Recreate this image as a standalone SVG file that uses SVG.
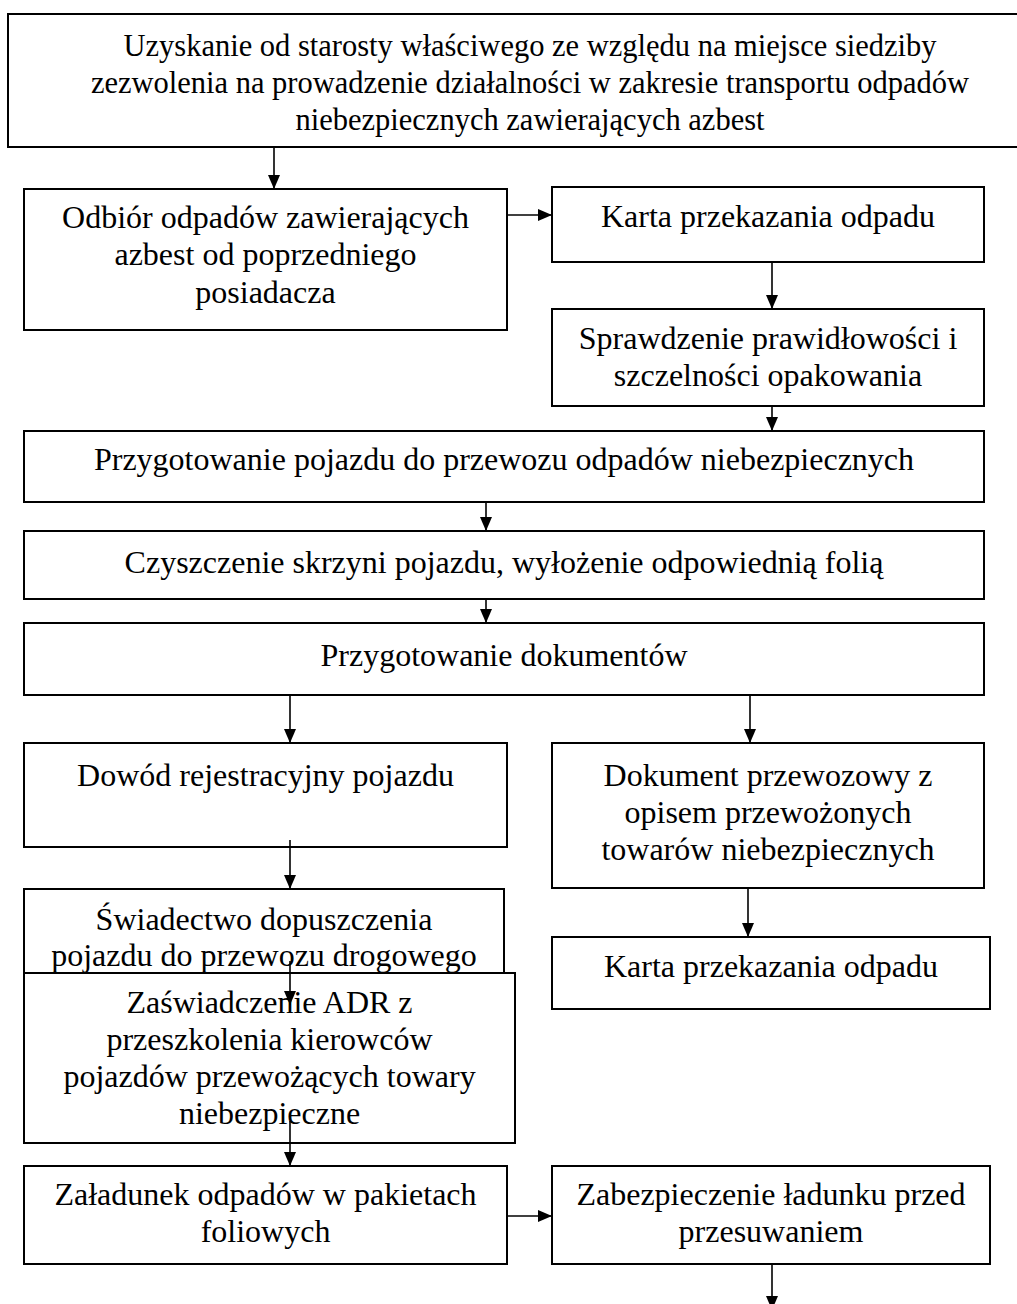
<svg xmlns="http://www.w3.org/2000/svg" width="1017" height="1304" viewBox="0 0 1017 1304">
<style>
.box{fill:#fff;stroke:#000;stroke-width:2}
.t{font-family:"Liberation Serif","Times New Roman",serif;font-size:32px;fill:#000;text-anchor:middle}
.t1{font-size:30.5px}
.c{stroke:#000;stroke-width:1.6;fill:none;marker-end:url(#ah)}
</style>
<defs>
<marker id="ah" viewBox="0 0 14 12" refX="14" refY="6" markerWidth="14" markerHeight="12" orient="auto" markerUnits="userSpaceOnUse">
<path d="M0,0 L14,6 L0,12 z" fill="#000"/>
</marker>
</defs>
<rect width="1017" height="1304" fill="#fff"/>
<g id="n1"><rect class="box" x="8" y="14" width="1025" height="133"/>
<text class="t t1" x="530" y="56">Uzyskanie od starosty właściwego ze względu na miejsce siedziby</text>
<text class="t t1" x="530" y="93">zezwolenia na prowadzenie działalności w zakresie transportu odpadów</text>
<text class="t t1" x="530" y="130">niebezpiecznych zawierających azbest</text></g>
<g id="n2"><rect class="box" x="24" y="189" width="483" height="141"/>
<text class="t" x="265.5" y="228">Odbiór odpadów zawierających</text>
<text class="t" x="265.5" y="265">azbest od poprzedniego</text>
<text class="t" x="265.5" y="303">posiadacza</text></g>
<g id="n3"><rect class="box" x="552" y="187" width="432" height="75"/>
<text class="t" x="768" y="227">Karta przekazania odpadu</text></g>
<g id="n4"><rect class="box" x="552" y="309" width="432" height="97"/>
<text class="t" x="768" y="349">Sprawdzenie prawidłowości i</text>
<text class="t" x="768" y="386">szczelności opakowania</text></g>
<g id="n5"><rect class="box" x="24" y="431" width="960" height="71"/>
<text class="t" x="504" y="470">Przygotowanie pojazdu do przewozu odpadów niebezpiecznych</text></g>
<g id="n6"><rect class="box" x="24" y="531" width="960" height="68"/>
<text class="t" x="504" y="573">Czyszczenie skrzyni pojazdu, wyłożenie odpowiednią folią</text></g>
<g id="n7"><rect class="box" x="24" y="623" width="960" height="72"/>
<text class="t" x="504" y="666">Przygotowanie dokumentów</text></g>
<g id="n8"><rect class="box" x="24" y="743" width="483" height="104"/>
<text class="t" x="265.5" y="786">Dowód rejestracyjny pojazdu</text></g>
<g id="n9"><rect class="box" x="552" y="743" width="432" height="145"/>
<text class="t" x="768" y="786">Dokument przewozowy z</text>
<text class="t" x="768" y="823">opisem przewożonych</text>
<text class="t" x="768" y="860">towarów niebezpiecznych</text></g>
<g id="n10"><rect class="box" x="24" y="889" width="480" height="84"/>
<text class="t" x="264" y="930">Świadectwo dopuszczenia</text>
<text class="t" x="264" y="966">pojazdu do przewozu drogowego</text></g>
<g id="n11"><rect class="box" x="552" y="937" width="438" height="72"/>
<text class="t" x="771" y="977">Karta przekazania odpadu</text></g>
<g id="n12"><rect class="box" x="24" y="973" width="491" height="170"/>
<text class="t" x="269.5" y="1013">Zaświadczenie ADR z</text>
<text class="t" x="269.5" y="1050">przeszkolenia kierowców</text>
<text class="t" x="269.5" y="1087">pojazdów przewożących towary</text>
<text class="t" x="269.5" y="1124">niebezpieczne</text></g>
<g id="n13"><rect class="box" x="24" y="1166" width="483" height="98"/>
<text class="t" x="265.5" y="1205">Załadunek odpadów w pakietach</text>
<text class="t" x="265.5" y="1242">foliowych</text></g>
<g id="n14"><rect class="box" x="552" y="1166" width="438" height="98"/>
<text class="t" x="771" y="1205">Zabezpieczenie ładunku przed</text>
<text class="t" x="771" y="1242">przesuwaniem</text></g>
<g id="connectors">
<line class="c" x1="274" y1="147" x2="274" y2="189"/>
<line class="c" x1="507" y1="215" x2="552" y2="215"/>
<line class="c" x1="772" y1="262" x2="772" y2="309"/>
<line class="c" x1="772" y1="406" x2="772" y2="431"/>
<line class="c" x1="486" y1="502" x2="486" y2="531"/>
<line class="c" x1="486" y1="599" x2="486" y2="623"/>
<line class="c" x1="290" y1="695" x2="290" y2="743"/>
<line class="c" x1="750" y1="695" x2="750" y2="743"/>
<line class="c" x1="290" y1="840" x2="290" y2="889"/>
<line class="c" x1="748" y1="888" x2="748" y2="937"/>
<line class="c" x1="290" y1="961" x2="290" y2="1005"/>
<line class="c" x1="290" y1="1121" x2="290" y2="1166"/>
<line class="c" x1="507" y1="1216" x2="552" y2="1216"/>
<line class="c" x1="772" y1="1264" x2="772" y2="1310"/>
</g>
</svg>
